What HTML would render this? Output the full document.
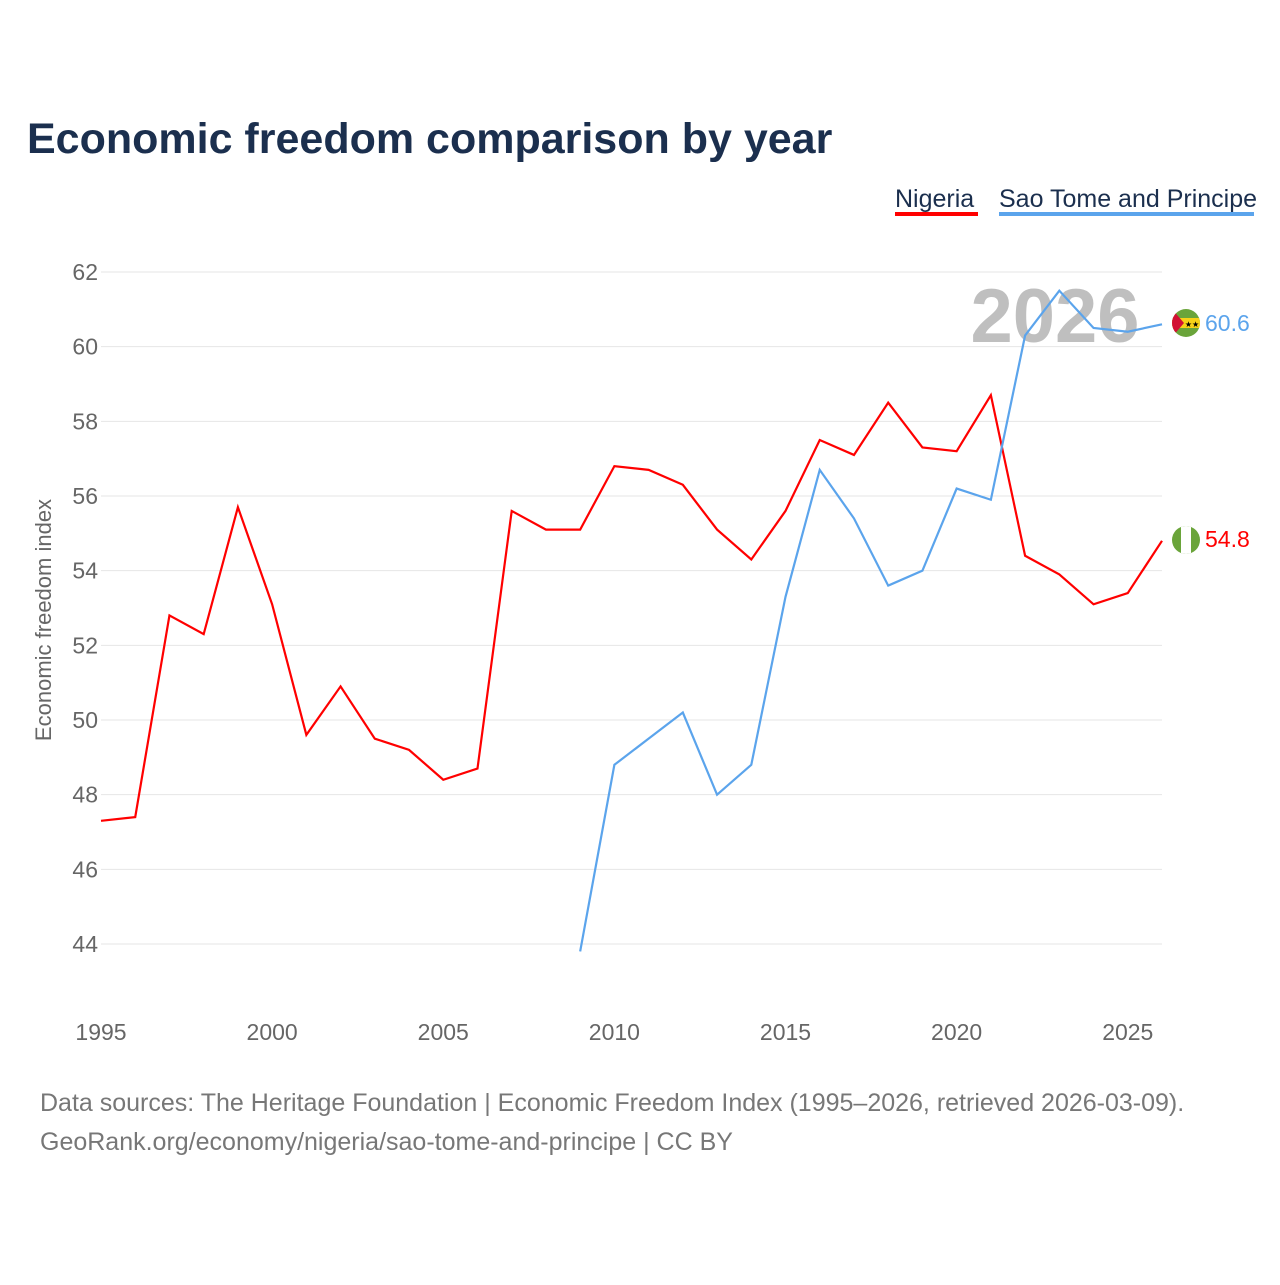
<!DOCTYPE html>
<html><head><meta charset="utf-8"><style>
body{margin:0;background:#fff;font-family:"Liberation Sans",sans-serif;}
</style></head><body>
<svg id="chart" width="1280" height="1280" xmlns="http://www.w3.org/2000/svg">
<text x="27" y="153" font-size="43" font-weight="bold" fill="#1b2f4e">Economic freedom comparison by year</text>
<g>
<text x="895" y="207" font-size="25" fill="#1b2f4e">Nigeria</text>
<rect x="895" y="212" width="83" height="4" fill="#ff0000"/>
<text x="999" y="207" font-size="25" fill="#1b2f4e">Sao Tome and Principe</text>
<rect x="999" y="212" width="255" height="4" fill="#5ba4ec"/>
</g>
<g id="grid"></g>
<text x="1055" y="342" font-size="76" font-weight="bold" fill="#bfbfbf" text-anchor="middle">2026</text>
<text transform="translate(51,620) rotate(-90)" font-size="22" fill="#666" text-anchor="middle">Economic freedom index</text>
<g id="series"></g>
<g>
<clipPath id="c1"><circle cx="1186" cy="323" r="14"/></clipPath>
<g clip-path="url(#c1)"><rect x="1172" y="309" width="28" height="28" fill="#6aa43a"/><rect x="1172" y="318" width="28" height="10" fill="#f7d117"/><polygon points="1172,309 1184,323 1172,337" fill="#d21034"/><text x="1192" y="327" font-size="8" text-anchor="middle">★★</text></g>
</g>
<g>
<clipPath id="c2"><circle cx="1186" cy="540" r="14"/></clipPath>
<g clip-path="url(#c2)"><rect x="1172" y="526" width="28" height="28" fill="#6aa43a"/><rect x="1181" y="526" width="10" height="28" fill="#fff"/></g>
</g>
<text x="1205" y="331" font-size="23" fill="#5ba4ec">60.6</text>
<text x="1205" y="547" font-size="23" fill="#ff0000">54.8</text>
<text x="40" y="1111" font-size="25" fill="#777">Data sources: The Heritage Foundation | Economic Freedom Index (1995–2026, retrieved 2026-03-09).</text>
<text x="40" y="1150" font-size="25" fill="#777">GeoRank.org/economy/nigeria/sao-tome-and-principe | CC BY</text>
</svg>
<script>
const nigeriaYears=[1995,1996,1997,1998,1999,2000,2001,2002,2003,2004,2005,2006,2007,2008,2009,2010,2011,2012,2013,2014,2015,2016,2017,2018,2019,2020,2021,2022,2023,2024,2025,2026];
const nigeriaValues=[47.3,47.4,52.8,52.3,55.7,53.1,49.6,50.9,49.5,49.2,48.4,48.7,55.6,55.1,55.1,56.8,56.7,56.3,55.1,54.3,55.6,57.5,57.1,58.5,57.3,57.2,58.7,54.4,53.9,53.1,53.4,54.8];
const stpYears=[2009,2010,2011,2012,2013,2014,2015,2016,2017,2018,2019,2020,2021,2022,2023,2024,2025,2026];
const stpValues=[43.8,48.8,49.5,50.2,48.0,48.8,53.3,56.7,55.4,53.6,54.0,56.2,55.9,60.3,61.5,60.5,60.4,60.6];
const yTicks=[44,46,48,50,52,54,56,58,60,62];
const xTicks=[1995,2000,2005,2010,2015,2020,2025];
const NS="http://www.w3.org/2000/svg";
const xS=y=>101+(y-1995)*(1162-101)/31;
const yS=v=>272+(62-v)*(944-272)/18;
const grid=document.getElementById('grid');
yTicks.forEach(t=>{
  const l=document.createElementNS(NS,'line');
  l.setAttribute('x1',101);l.setAttribute('x2',1162);l.setAttribute('y1',yS(t));l.setAttribute('y2',yS(t));
  l.setAttribute('stroke','#e6e6e6');l.setAttribute('stroke-width','1');
  
  
  grid.appendChild(l);
  const tx=document.createElementNS(NS,'text');
  tx.setAttribute('x',98);tx.setAttribute('y',yS(t)+8);tx.setAttribute('text-anchor','end');
  tx.setAttribute('font-size','23');tx.setAttribute('fill','#666');tx.textContent=t;
  
  
  grid.appendChild(tx);
});
xTicks.forEach(t=>{
  const tx=document.createElementNS(NS,'text');
  tx.setAttribute('x',xS(t));tx.setAttribute('y',1040);tx.setAttribute('text-anchor','middle');
  tx.setAttribute('font-size','23');tx.setAttribute('fill','#666');tx.textContent=t;
  
  
  grid.appendChild(tx);
});
const ser=document.getElementById('series');
function line(xs,vs,color,name){
  const p=document.createElementNS(NS,'polyline');
  p.setAttribute('points',xs.map((x,i)=>xS(x)+','+yS(vs[i])).join(' '));
  p.setAttribute('fill','none');p.setAttribute('stroke',color);p.setAttribute('stroke-width','2.2');
  
  
  ser.appendChild(p);
}
line(nigeriaYears,nigeriaValues,'#ff0000','nigeria-line');
line(stpYears,stpValues,'#5ba4ec','sao-tome-line');
</script>
</body></html>
